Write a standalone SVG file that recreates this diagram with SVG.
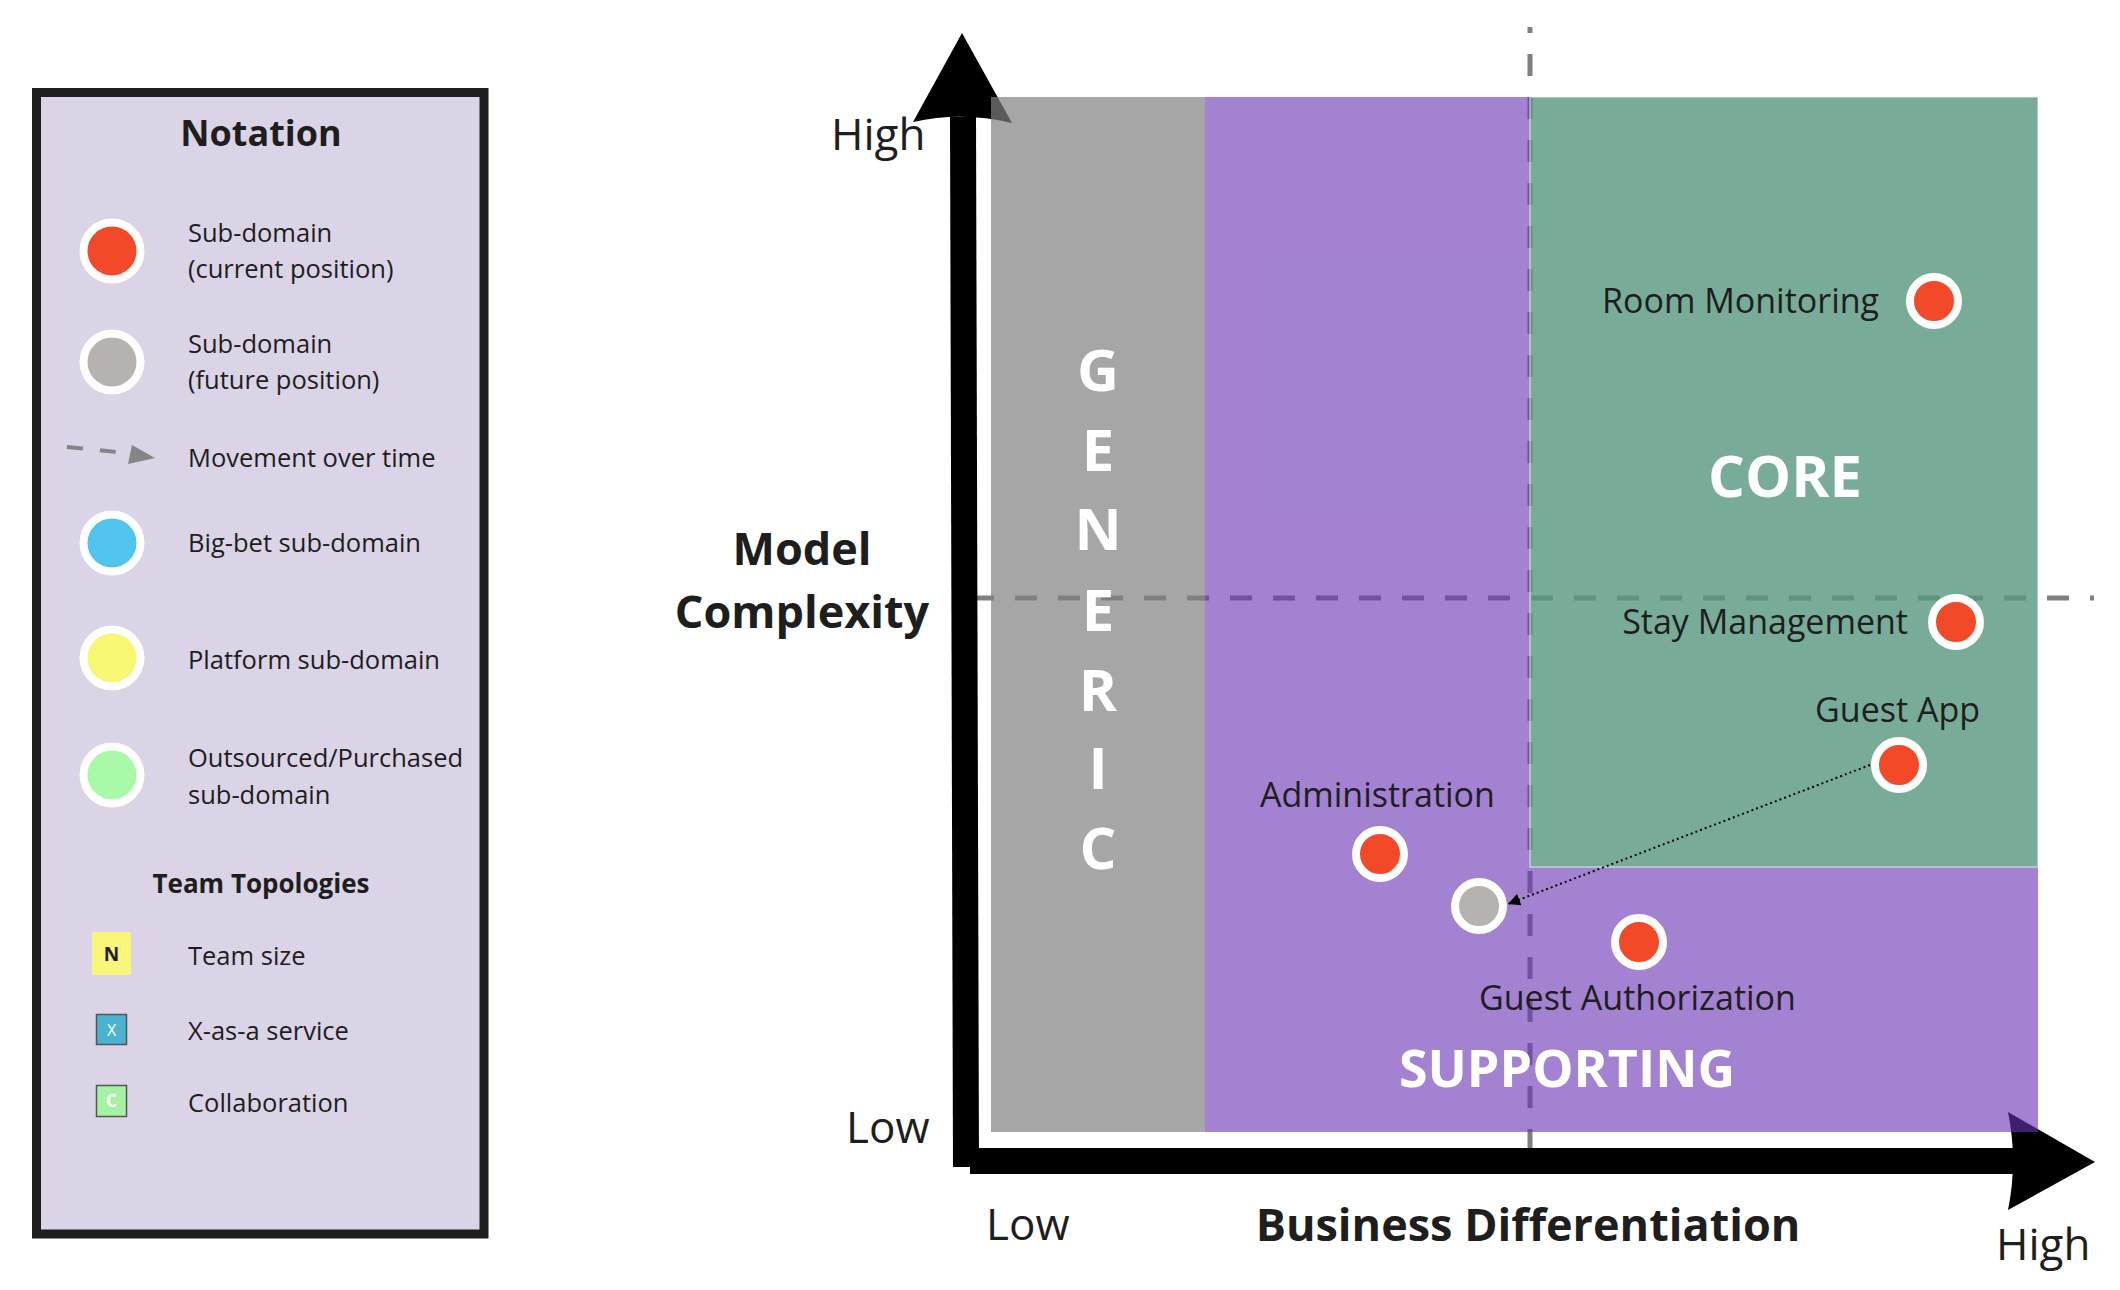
<svg xmlns="http://www.w3.org/2000/svg" width="2120" height="1290" viewBox="0 0 2120 1290">
<defs>
<style>
text{font-family:"Open Sans","Liberation Sans",sans-serif;fill:#1E1E1E}
.lg{font-size:25.5px}
.lbl{font-size:34px}
.ax{font-size:44px}
.ttl{font-weight:700}
.zone{font-weight:700;fill:#FFFFFF}
.ring{stroke:#FFFFFF;stroke-width:8}
.cur{fill:#F24A28}
.fut{fill:#B6B2B0}
.dash{fill:none;stroke:#808080;stroke-width:5;stroke-dasharray:22 21}
</style>
<marker id="ah" viewBox="0 0 10 10" refX="10" refY="5" markerWidth="16" markerHeight="12" markerUnits="userSpaceOnUse" orient="auto">
<path d="M0,0 L10,5 L0,10 Z" fill="#000"/>
</marker>
</defs>
<rect width="2120" height="1290" fill="#FFFFFF"/>

<g id="legend">
<rect x="36.5" y="92.5" width="447.5" height="1141.5" fill="#DBD3E6" stroke="#1E1E1E" stroke-width="9"/>
<text x="261" y="146" class="ttl" font-size="36" text-anchor="middle">Notation</text>
<circle cx="112" cy="251" r="28.5" class="ring cur"/>
<text class="lg" x="188" y="242">Sub-domain</text>
<text class="lg" x="188" y="278">(current position)</text>
<circle cx="112" cy="362" r="28.5" class="ring fut"/>
<text class="lg" x="188" y="353">Sub-domain</text>
<text class="lg" x="188" y="389">(future position)</text>
<line x1="67" y1="447" x2="117" y2="452" stroke="#858585" stroke-width="4" stroke-dasharray="16 17"/>
<polygon points="132,445 155,458 128,464" fill="#858585"/>
<text class="lg" x="188" y="467">Movement over time</text>
<circle cx="112" cy="543" r="28.5" class="ring" fill="#51C4ED"/>
<text class="lg" x="188" y="552">Big-bet sub-domain</text>
<circle cx="112" cy="658" r="28.5" class="ring" fill="#F7F774"/>
<text class="lg" x="188" y="669">Platform sub-domain</text>
<circle cx="112" cy="775" r="28.5" class="ring" fill="#A8FAA8"/>
<text class="lg" x="188" y="767">Outsourced/Purchased</text>
<text class="lg" x="188" y="804">sub-domain</text>
<text x="261" y="893" class="ttl" font-size="26" text-anchor="middle">Team Topologies</text>
<rect x="92" y="932" width="39" height="43" fill="#F7F57A"/>
<text x="111.5" y="961" font-size="19" font-weight="700" text-anchor="middle">N</text>
<text class="lg" x="188" y="965">Team size</text>
<rect x="96.5" y="1014.5" width="30" height="30" fill="#4BB3CF" stroke="#555" stroke-width="1.5"/>
<text x="111.5" y="1036" font-size="16" text-anchor="middle" style="fill:#FFFFFF">X</text>
<text class="lg" x="188" y="1040">X-as-a service</text>
<rect x="96.5" y="1085.5" width="30" height="31" fill="#A5F2A4" stroke="#555" stroke-width="1.5"/>
<text x="111.5" y="1107" font-size="17" font-weight="700" text-anchor="middle" style="fill:#FFFFFF">C</text>
<text class="lg" x="188" y="1112">Collaboration</text>
</g>

<g id="guides">
<line x1="972" y1="598" x2="2094" y2="598" class="dash"/>
<line x1="1530" y1="27" x2="1530" y2="1153" class="dash" stroke-dashoffset="16"/>
</g>

<g id="axes">
<polygon points="950,117 976,117 979,1167 953,1167" fill="#000"/>
<path d="M962,33 L1012,123 Q962,111 913,122 Z" fill="#000"/>
<rect x="970" y="1148" width="1045" height="26" fill="#000"/>
<path d="M2095,1162 L2008,1210 Q2018,1161 2008,1112 Z" fill="#000"/>
</g>

<g id="zones">
<rect id="generic" x="991" y="97" width="214" height="1035" fill="#808080" fill-opacity="0.7"/>
<rect id="supporting-top" x="1205" y="97" width="325" height="770" fill="#6733B4" fill-opacity="0.61"/>
<rect id="supporting-bottom" x="1205" y="867" width="833" height="265" fill="#6733B4" fill-opacity="0.61"/>
<rect id="core" x="1530" y="97" width="508" height="770" fill="#56977E" fill-opacity="0.8" stroke="#FFFFFF" stroke-opacity="0.5" stroke-width="1.5"/>
</g>

<g id="zone-labels">
<text class="zone" x="1098" y="391" font-size="58" text-anchor="middle">G</text>
<text class="zone" x="1098" y="471" font-size="58" text-anchor="middle">E</text>
<text class="zone" x="1098" y="550" font-size="58" text-anchor="middle">N</text>
<text class="zone" x="1098" y="631" font-size="58" text-anchor="middle">E</text>
<text class="zone" x="1098" y="711" font-size="58" text-anchor="middle">R</text>
<text class="zone" x="1098" y="789" font-size="58" text-anchor="middle">I</text>
<text class="zone" x="1098" y="869" font-size="58" text-anchor="middle">C</text>
<text class="zone" x="1785" y="497" font-size="58" text-anchor="middle">CORE</text>
<text class="zone" x="1567" y="1087" font-size="52" text-anchor="middle">SUPPORTING</text>
</g>

<g id="axis-labels">
<text class="ax" x="831" y="150">High</text>
<text class="ax" x="846" y="1143">Low</text>
<text class="ax" x="986" y="1240">Low</text>
<text class="ax" x="1996" y="1260">High</text>
<text class="ttl" x="1528" y="1241" font-size="45" text-anchor="middle">Business Differentiation</text>
<text class="ttl" x="802" y="565" font-size="45" text-anchor="middle">Model</text>
<text class="ttl" x="802" y="628" font-size="45" text-anchor="middle">Complexity</text>
</g>

<g id="connectors">
<line x1="1870" y1="765" x2="1508" y2="904" stroke="#000" stroke-width="2" stroke-dasharray="2 3" marker-end="url(#ah)"/>
</g>

<g id="room-monitoring">
<circle cx="1934" cy="301" r="24" class="ring cur"/>
<text class="lbl" x="1602" y="313">Room Monitoring</text>
</g>
<g id="stay-management">
<circle cx="1956" cy="622" r="24" class="ring cur"/>
<text class="lbl" x="1908" y="634" text-anchor="end">Stay Management</text>
</g>
<g id="guest-app">
<circle cx="1899" cy="765" r="24" class="ring cur"/>
<text class="lbl" x="1980" y="722" text-anchor="end">Guest App</text>
</g>
<g id="administration">
<circle cx="1380" cy="854" r="24" class="ring cur"/>
<text class="lbl" x="1260" y="807">Administration</text>
</g>
<g id="guest-app-future">
<circle cx="1479" cy="906" r="24" class="ring fut"/>
</g>
<g id="guest-authorization">
<circle cx="1639" cy="942" r="24" class="ring cur"/>
<text class="lbl" x="1479" y="1010">Guest Authorization</text>
</g>
</svg>
